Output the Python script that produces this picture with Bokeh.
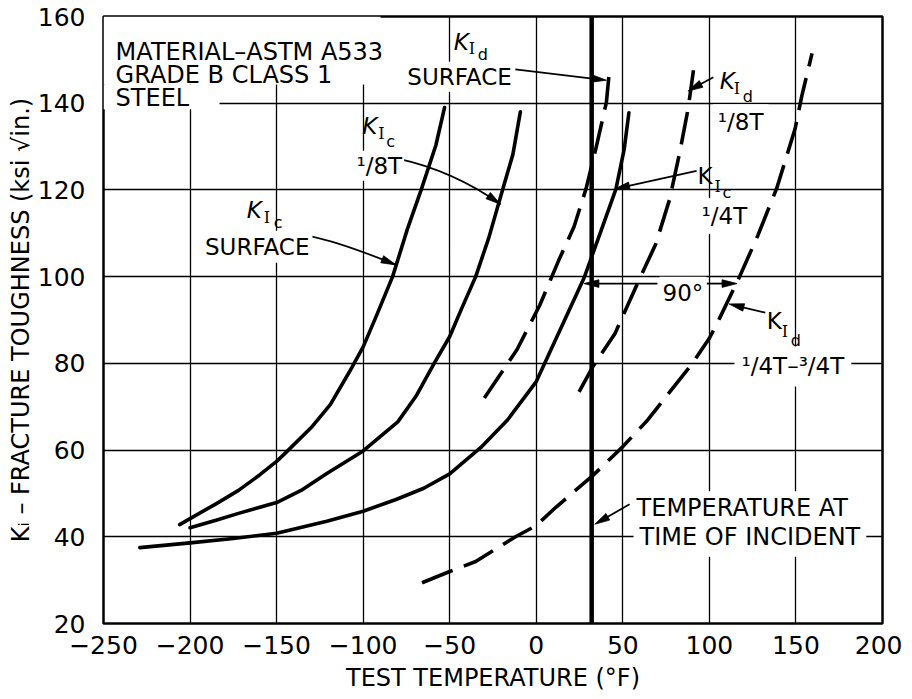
import math
from bokeh.plotting import figure
from bokeh.models import Label, Span, FixedTicker, BoxAnnotation
from bokeh.embed import file_html
from bokeh.resources import INLINE

# ---------------- data ----------------
x_ticks = [-250, -200, -150, -100, -50, 0, 50, 100, 150, 200]
x_tick_labels = ["\u2212250", "\u2212200", "\u2212150", "\u2212100", "\u221250", "0", "50", "100", "150", "200"]
y_ticks = [20, 40, 60, 80, 100, 120, 140, 160]
y_tick_labels = ["20", "40", "60", "80", "100", "120", "140", "160"]

# K_Ic surface (solid)
kic_surface_t = [-206, -200, -185, -172, -160, -150, -145, -130, -119, -108, -100, -92, -83, -74.5, -66.5, -58, -53]
kic_surface_k = [42.8, 44.2, 47.6, 50.7, 54.2, 57.4, 59.3, 65.2, 70.5, 78.0, 83.8, 91.3, 100.0, 110.9, 120.0, 130.3, 139.0]
# K_Ic 1/8 T (solid)
kic_eighth_t = [-200, -185, -172, -150, -135, -121, -100, -80, -69.5, -59, -50, -43.7, -35, -27.4, -19.5, -13.5, -9.2]
kic_eighth_k = [42.1, 43.8, 45.4, 47.9, 50.9, 54.6, 59.8, 66.5, 72.4, 80.0, 86.2, 92.1, 100.0, 109.0, 120.0, 128.2, 138.0]
# K_Ic 1/4 T (solid)
kic_quarter_t = [-229, -200, -175, -150, -121, -100, -81, -65, -50, -32, -16.5, 0, 15.8, 27.7, 37.6, 46.0, 50.8, 53.5]
kic_quarter_k = [37.5, 38.6, 39.6, 40.8, 43.6, 45.9, 48.6, 51.2, 54.5, 60.6, 67.0, 75.8, 89.5, 99.8, 110.8, 120.2, 129.4, 137.8]
# K_Id surface (dashed)
kid_surface_t = [-30, -21.7, -11.1, 2, 12.9, 21.8, 28.7, 34.6, 40.5, 42.5]
kid_surface_k = [72.0, 76.9, 83.2, 93.4, 103.7, 111.5, 120.2, 129.8, 140.2, 148.5]
# K_Id 1/8 T (dashed)
kid_eighth_t = [24.7, 32.6, 45.5, 57.3, 69.1, 77, 82.9, 87.7, 90.8]
kid_eighth_k = [73.4, 79.2, 86.9, 97.4, 107.6, 117.8, 128.7, 138.7, 147.6]
# K_Id 1/4 T - 3/4 T (dashed)
kid_quarter_t = [-66, -50, -35, -12, 0, 11.3, 32.6, 50, 64.5, 74.7, 90.2, 100, 106, 117, 128, 139, 149.5, 153.4, 159.3]
kid_quarter_k = [29.4, 32.0, 34.3, 40.0, 42.6, 46.8, 54.1, 60.8, 67.0, 72.2, 80.0, 85.8, 90.5, 99.6, 109.5, 120.5, 134.1, 141.7, 151.5]

incident_temp = 32

# ---------------- figure ----------------
FONT = "DejaVu Sans"
H = 699
W = 902
ML, MR, MT, MB = 103, 20, 16, 76
X0, X1, Y0, Y1 = -250, 200, 20, 160
SX = (W - ML - MR) / (X1 - X0)
SY = (H - MT - MB) / (Y1 - Y0)

p = figure(width=W, height=H, x_range=(X0, X1), y_range=(Y0, Y1),
           output_backend="svg", toolbar_location=None,
           min_border_left=ML, min_border_right=MR, min_border_top=MT, min_border_bottom=MB)
p.background_fill_color = "white"
p.border_fill_color = "white"
p.outline_line_color = "black"
p.outline_line_width = 2.5

for ax, ticks, labels, standoff in ((p.xaxis, x_ticks, x_tick_labels, 12), (p.yaxis, y_ticks, y_tick_labels, 18)):
    ax.ticker = FixedTicker(ticks=ticks)
    ax.major_label_overrides = {t: l for t, l in zip(ticks, labels)}
    ax.major_label_text_font = FONT
    ax.major_label_text_font_size = "25px"
    ax.major_label_text_color = "black"
    ax.major_label_standoff = standoff
    ax.major_tick_in = 0
    ax.major_tick_out = 0
    ax.minor_tick_in = 0
    ax.minor_tick_out = 0
    ax.axis_line_color = None
    ax.axis_label_text_font = FONT
    ax.axis_label_text_font_size = "24px"
    ax.axis_label_text_font_style = "normal"
    ax.axis_label_text_color = "black"

p.xaxis.axis_label = "TEST TEMPERATURE (\u00b0F)"
p.xaxis.axis_label_standoff = 7
p.yaxis.axis_label = "K\u1d62 \u2013 FRACTURE TOUGHNESS (ksi \u221ain.)"
p.yaxis.axis_label_standoff = 0

p.xgrid.ticker = FixedTicker(ticks=x_ticks)
p.ygrid.ticker = FixedTicker(ticks=y_ticks)
for g in (p.xgrid, p.ygrid):
    g.grid_line_color = "black"
    g.grid_line_width = 1.3

# white patch behind the material note (grid lines are interrupted there)
p.add_layout(BoxAnnotation(left=-250, right=-90, bottom=144.3, top=160, fill_color="white", fill_alpha=1,
                           line_color=None, level="underlay"))
p.add_layout(BoxAnnotation(left=-250, right=-183, bottom=138.6, top=144.3, fill_color="white", fill_alpha=1,
                           line_color=None, level="underlay"))

# ---------------- curves ----------------
for t, k in ((kic_surface_t, kic_surface_k), (kic_eighth_t, kic_eighth_k), (kic_quarter_t, kic_quarter_k)):
    p.line(t, k, line_color="black", line_width=3.6, line_cap="round", line_join="round")
for t, k in ((kid_surface_t, kid_surface_k), (kid_eighth_t, kid_eighth_k), (kid_quarter_t, kid_quarter_k)):
    p.line(t, k, line_color="black", line_width=3.6, line_dash="33 12", line_join="round")

p.add_layout(Span(location=incident_temp, dimension="height", line_color="black", line_width=4.5))

# ---------------- arrows ----------------
def head(tx, ty, fx, fy, L=15, w=3.8):
    dx = (tx - fx) * SX
    dy = (ty - fy) * SY
    n = math.hypot(dx, dy)
    ux, uy = dx / n, dy / n
    bx, by = -ux * L, -uy * L
    qx, qy = -uy * w, ux * w
    xs = [tx, tx + (bx + qx) / SX, tx + (bx - qx) / SX]
    ys = [ty, ty + (by + qy) / SY, ty + (by - qy) / SY]
    base = (tx + 0.8 * bx / SX, ty + 0.8 * by / SY)
    return xs, ys, base

straight_arrows = [
    ((-12.1, 147.8), (40.5, 145.3)),
    ((102.3, 146.0), (87.6, 142.8)),
    ((92.6, 124.4), (45.3, 120.2)),
    ((70.0, 98.4), (27.5, 98.4)),
    ((98.5, 98.4), (116.0, 98.4)),
    ((132.3, 91.7), (111.4, 93.7)),
    ((53.9, 47.5), (33.8, 42.9)),
]
curved_arrows = [
    ((-130.3, 109.3), (-112.8, 107.9), (-81.0, 102.7)),
    ((-80.0, 127.2), (-47.9, 124.4), (-20.7, 116.7)),
]
hx, hy = [], []
sx0, sy0, sx1, sy1 = [], [], [], []
for (fx, fy), (tx, ty) in straight_arrows:
    xs, ys, base = head(tx, ty, fx, fy)
    hx.append(xs); hy.append(ys)
    sx0.append(fx); sy0.append(fy); sx1.append(base[0]); sy1.append(base[1])
p.segment(sx0, sy0, sx1, sy1, line_color="black", line_width=1.8)
qx0, qy0, qcx, qcy, qx1, qy1 = [], [], [], [], [], []
for (fx, fy), (cx, cy), (tx, ty) in curved_arrows:
    xs, ys, base = head(tx, ty, cx, cy)
    hx.append(xs); hy.append(ys)
    qx0.append(fx); qy0.append(fy); qcx.append(cx); qcy.append(cy); qx1.append(tx); qy1.append(ty)
p.quadratic(x0=qx0, y0=qy0, x1=qx1, y1=qy1, cx=qcx, cy=qcy, line_color="black", line_width=1.8)
p.patches(hx, hy, fill_color="black", line_color="black", line_width=0.8)

# ---------------- texts ----------------
def txt(x, y, s, size=23, align="left", bg=True, style="normal", font=FONT, xo=0, yo=0, pad=4):
    kw = dict(x=x, y=y, text=s, text_font=font, text_font_size=f"{size}px",
              text_font_style=style, text_align=align, text_baseline="alphabetic",
              text_color="black", x_offset=xo, y_offset=yo)
    if bg:
        kw.update(background_fill_color="white", padding=pad)
    p.add_layout(Label(**kw))

def kgroup(x, y, sub, italic, Io, so):
    txt(x, y, "K", size=23, style="italic" if italic else "normal", bg=False)
    txt(x, y, "I", size=16, font="DejaVu Serif", bg=False, xo=Io[0], yo=Io[1])
    txt(x, y, sub, size=16, bg=False, xo=so[0], yo=so[1])

txt(-243, 151.9, "MATERIAL\u2013ASTM A533", size=24, bg=False)
txt(-243, 146.5, "GRADE B CLASS 1", size=24, bg=False)
txt(-243, 141.3, "STEEL", size=24, bg=False)

kgroup(-167.2, 115.4, "c", True, (17, -8), (27, -13))
txt(-161.2, 106.9, "SURFACE", align="center", pad=3)

kgroup(-100.6, 134.7, "c", True, (16, -7), (24, -15))
txt(-105, 125.6, "\u00b9/8T", pad=2)

kgroup(-47.7, 154.1, "d", True, (15, -6), (24, -12))
txt(-13, 146.1, "SURFACE", align="right", pad=2)

kgroup(106, 145.2, "d", True, (14, -8), (23, -16))
txt(102, 135.6, "\u00b9/8T", pad=5)

kgroup(93.2, 123.3, "c", False, (17, -11), (25, -17))
txt(92.6, 114.0, "\u00b9/4T", pad=5)

txt(84.7, 96.3, "90\u00b0", align="center", pad=3)

kgroup(133.2, 89.7, "d", False, (15, -10), (24, -19))
txt(114.5, 79.3, "\u00b9/4T\u2013\u00b3/4T", pad=7)

txt(56.2, 46.6, "TEMPERATURE AT", size=24, pad=3)
txt(56.2, 40.0, "TIME OF INCIDENT", size=24, pad=6)

open("out.html", "w").write(file_html(p, INLINE, "K_I fracture toughness"))
